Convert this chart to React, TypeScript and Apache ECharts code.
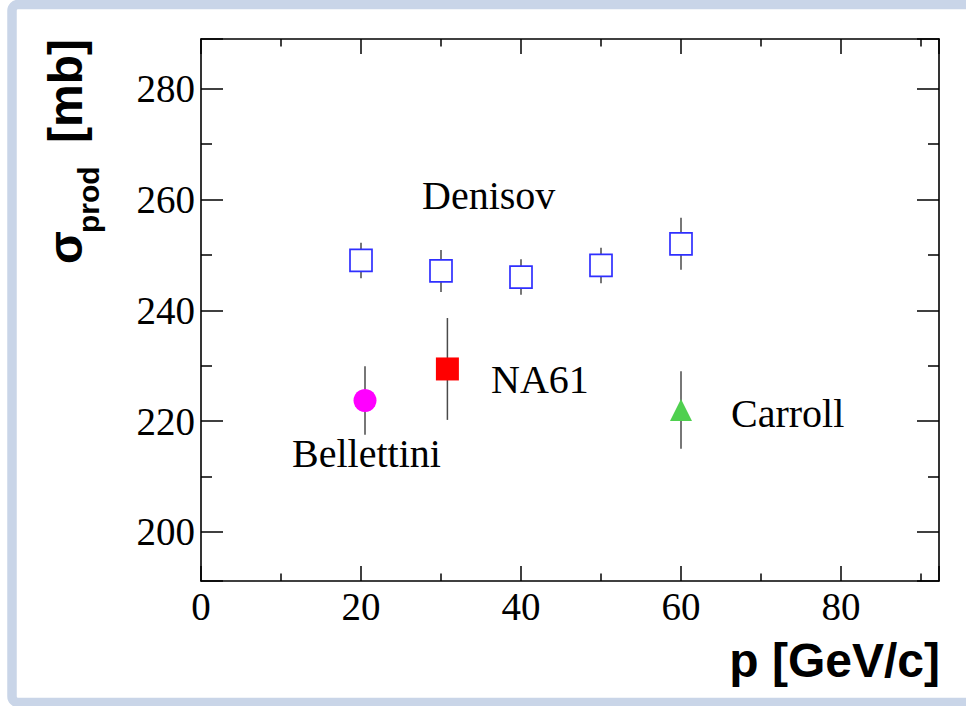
import React, { useEffect, useRef } from "react";
import * as echarts from "echarts";

// Axis ranges
const xRange = [0, 92.25];
const yRange = [191.1, 289.0];

// Denisov (open blue squares)
const denisovP = [20, 30, 40, 50, 60];
const denisovSigma = [249.0, 247.1, 246.0, 248.1, 252.0];
const denisovErr = [3.2, 3.8, 3.2, 3.2, 4.7];

// NA61 (red filled square)
const na61P = [30.8];
const na61Sigma = [229.4];
const na61Err = [9.2];

// Bellettini (magenta circle)
const bellettiniP = [20.5];
const bellettiniSigma = [223.7];
const bellettiniErr = [6.2];

// Carroll (green triangle)
const carrollP = [60];
const carrollSigma = [222.0];
const carrollErr = [7.0];

const labelTexts = ["Denisov", "NA61", "Bellettini", "Carroll"];

const SERIF = "'Liberation Serif', 'Times New Roman', Times, serif";
const SANS = "'Liberation Sans', Arial, Helvetica, sans-serif";

function pts(p: number[], s: number[], e: number[]) {
  return p.map((x, i) => [x, s[i], e[i]]);
}

function errorSeries(data: number[][]) {
  return {
    type: "custom",
    xAxisIndex: 0,
    yAxisIndex: 0,
    z: 2,
    data,
    renderItem: (params: any, api: any) => {
      const x = api.value(0);
      const y = api.value(1);
      const e = api.value(2);
      const a = api.coord([x, y + e]);
      const b = api.coord([x, y - e]);
      return {
        type: "line",
        shape: { x1: a[0], y1: a[1], x2: b[0], y2: b[1] },
        style: { stroke: "#4a4a4a", lineWidth: 1.5 },
      };
    },
  };
}

function makeXAxis(position: string, showLabel: boolean) {
  return {
    type: "value",
    position,
    min: xRange[0],
    max: xRange[1],
    splitLine: { show: false },
    axisLine: { show: true, onZero: false, lineStyle: { color: "#000", width: 1.6 } },
    axisTick: { show: true, inside: true, length: 15, lineStyle: { color: "#000", width: 1.5 } },
    minorTick: { show: true, splitNumber: 2, length: 7.5, lineStyle: { color: "#000", width: 1.5 } },
    minorSplitLine: { show: false },
    axisLabel: {
      show: showLabel,
      margin: 6,
      fontSize: 39,
      fontFamily: SERIF,
      color: "#000",
      showMaxLabel: false,
    },
  };
}

function makeYAxis(position: string, showLabel: boolean) {
  return {
    type: "value",
    position,
    min: yRange[0],
    max: yRange[1],
    splitLine: { show: false },
    axisLine: { show: true, onZero: false, lineStyle: { color: "#000", width: 1.6 } },
    axisTick: { show: true, inside: true, length: 22, lineStyle: { color: "#000", width: 1.5 } },
    minorTick: { show: true, splitNumber: 2, length: 11, lineStyle: { color: "#000", width: 1.5 } },
    minorSplitLine: { show: false },
    axisLabel: {
      show: showLabel,
      margin: 6,
      fontSize: 39,
      fontFamily: SERIF,
      color: "#000",
      showMinLabel: false,
      showMaxLabel: false,
    },
  };
}

export default function App() {
  const ref = useRef<HTMLDivElement>(null);

  useEffect(() => {
    if (!ref.current) return;
    const chart = echarts.init(ref.current, undefined, { renderer: "svg" });

    const labelStyle = (text: string) => ({
      text,
      fontSize: 40,
      fontFamily: SERIF,
      fill: "#000",
      align: "left",
      verticalAlign: "middle",
    });

    const option: any = {
      animation: false,
      backgroundColor: "#ffffff",
      grid: { left: 201, top: 39, right: 27, bottom: 125, containLabel: false, outerBoundsMode: "none" },
      xAxis: [makeXAxis("bottom", true), makeXAxis("top", false)],
      yAxis: [makeYAxis("left", true), makeYAxis("right", false)],
      series: [
        errorSeries(pts(denisovP, denisovSigma, denisovErr)),
        errorSeries(pts(na61P, na61Sigma, na61Err)),
        errorSeries(pts(bellettiniP, bellettiniSigma, bellettiniErr)),
        errorSeries(pts(carrollP, carrollSigma, carrollErr)),
        {
          type: "scatter",
          name: "Denisov",
          z: 5,
          symbol: "rect",
          symbolSize: 22,
          itemStyle: { color: "#ffffff", borderColor: "#2f2fff", borderWidth: 1.7, opacity: 1 },
          data: denisovP.map((x, i) => [x, denisovSigma[i]]),
        },
        {
          type: "scatter",
          name: "NA61",
          z: 5,
          symbol: "rect",
          symbolSize: 23,
          itemStyle: { color: "#ff0000", opacity: 1 },
          data: na61P.map((x, i) => [x, na61Sigma[i]]),
        },
        {
          type: "scatter",
          name: "Bellettini",
          z: 5,
          symbol: "circle",
          symbolSize: 23,
          itemStyle: { color: "#ff00ff", opacity: 1 },
          data: bellettiniP.map((x, i) => [x, bellettiniSigma[i]]),
        },
        {
          type: "scatter",
          name: "Carroll",
          z: 5,
          symbol: "triangle",
          symbolSize: 22,
          itemStyle: { color: "#4fd04f", opacity: 1 },
          data: carrollP.map((x, i) => [x, carrollSigma[i]]),
        },
      ],
      graphic: [
        {
          type: "rect",
          silent: true,
          z: 100,
          shape: { x: 12, y: 4.5, width: 1100, height: 698, r: 6 },
          style: { fill: "none", stroke: "#c9d5e8", lineWidth: 9.5 },
        },
        { type: "text", x: 422, y: 195.8, style: labelStyle(labelTexts[0]) },
        { type: "text", x: 491, y: 379.2, style: labelStyle(labelTexts[1]) },
        { type: "text", x: 292, y: 453.8, style: labelStyle(labelTexts[2]) },
        { type: "text", x: 731, y: 413.2, style: labelStyle(labelTexts[3]) },
        {
          type: "text",
          x: 940,
          y: 660.4,
          style: {
            text: "p [GeV/c]",
            fontSize: 48,
            fontWeight: "bold",
            fontFamily: SANS,
            fill: "#000",
            align: "right",
            verticalAlign: "middle",
          },
        },
        {
          type: "group",
          x: 82,
          y: 264,
          rotation: Math.PI / 2,
          children: [
            {
              type: "text",
              x: 0,
              y: -16.6,
              style: {
                text: "σ",
                fontSize: 48,
                fontWeight: "bold",
                fontFamily: SANS,
                fill: "#000",
                align: "left",
                verticalAlign: "middle",
              },
            },
            {
              type: "text",
              x: 31,
              y: 6.3,
              style: {
                text: "prod",
                fontSize: 30,
                fontWeight: "bold",
                fontFamily: SANS,
                fill: "#000",
                align: "left",
                verticalAlign: "middle",
              },
            },
            {
              type: "text",
              x: 121,
              y: -16.6,
              style: {
                text: "[mb]",
                fontSize: 48,
                fontWeight: "bold",
                fontFamily: SANS,
                fill: "#000",
                align: "left",
                verticalAlign: "middle",
              },
            },
          ],
        },
      ],
    };

    chart.setOption(option);
    return () => {
      chart.dispose();
    };
  }, []);

  return (
    <div
      ref={ref}
      style={{ position: "fixed", left: 0, top: 0, width: 966, height: 706, background: "#fff" }}
    />
  );
}
